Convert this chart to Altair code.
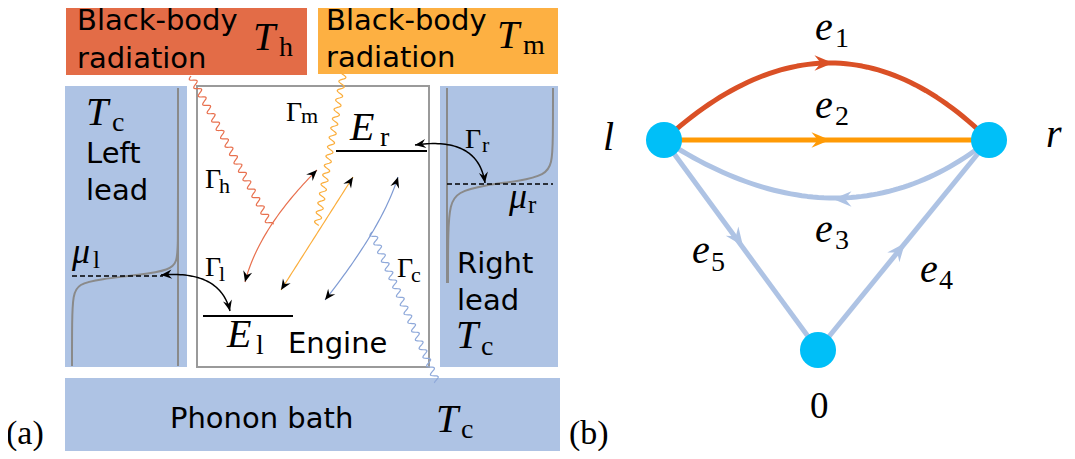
import math
import altair as alt
import pandas as pd

# ---------------- panel (a): boxes ----------------
box_x1 = [66, 318, 65, 440, 65]
box_x2 = [307, 558, 187, 558, 560]
box_y1 = [0, 0, 86, 86, 378]
box_y2 = [75, 74, 367, 367, 452]
box_fill = ["#E36C47", "#FDB042", "#AEC3E4", "#AEC3E4", "#AEC3E4"]

engine_box = [197, 86, 429, 367]

# Fermi-function control points (left lead, right lead)
fermi_l_x = [178, 178, 178, 178, 177, 170, 140, 100, 78, 73, 72, 72, 72]
fermi_l_y = [88, 88, 200, 245, 262, 270, 275, 279, 284, 295, 320, 366, 366]
fermi_r_x = [553, 553, 553, 552, 545, 520, 485, 457, 450, 448, 448, 448]
fermi_r_y = [88, 88, 140, 164, 175, 181, 185, 192, 205, 230, 283, 283]
axis_x = [178, 447]
axis_y1 = [88, 88]
axis_y2 = [366, 283]

# dashed chemical potentials
dash_x1 = [72, 447]
dash_x2 = [163, 553]
dash_y = [276, 184]

# energy levels
lvl_x1 = [336, 203]
lvl_x2 = [427, 293]
lvl_y = [151, 316]

# wavy photon / phonon lines: start, end, colour
wave_x0 = [191, 344, 372]
wave_y0 = [76, 70, 232]
wave_x1 = [271, 317, 437]
wave_y1 = [226, 226, 382]
wave_col = ["#E8704E", "#FBAE3C", "#8FA9DA"]

# thin double arrows (quadratic curves): start, control, end, colour
dbl_x0 = [245, 281, 325, 161, 415]
dbl_y0 = [282, 290, 300, 275, 145]
dbl_cx = [259, 317, 382, 220, 478]
dbl_cy = [228, 233.5, 228, 270, 136]
dbl_x1 = [317, 353, 398, 230, 485]
dbl_y1 = [170, 177, 177, 311, 183]
dbl_col = ["#E8704E", "#FBAE3C", "#7F9BD3", "black", "black"]
dbl_w = [1.2, 1.2, 1.2, 1.5, 1.5]

# ---------------- panel (b): graph ----------------
node_x = [664, 989, 818]
node_y = [140, 140, 350]
edge_from = [0, 0, 1, 2, 0]
edge_to = [1, 1, 0, 1, 2]
edge_cx = [833, None, 843, None, None]
edge_cy = [-14, None, 256, None, None]
edge_col = ["#DA5026", "#FF9A05", "#AEC3E4", "#AEC3E4", "#AEC3E4"]
tip_x = [833, 830, 833, 905, 743]
tip_y = [63, 140, 199, 243, 246]

# ---------------- texts ----------------
sans_t = ["Black-body", "radiation", "Black-body", "radiation", "Left", "lead",
          "Right", "lead", "Engine", "Phonon bath"]
sans_x = [77, 77, 326, 326, 86, 86, 457, 457, 288, 170]
sans_y = [30, 68, 30, 67, 163, 200, 273, 310, 353, 428]

ital_t = ["T", "T", "T", "T", "T", "E", "E", "μ", "μ",
          "e", "e", "e", "e", "e", "l", "r"]
ital_x = [253, 497, 86, 456, 436, 350, 227, 72, 509,
          815, 815, 815, 920, 692, 603, 1046]
ital_y = [50, 48, 125, 348, 432, 140, 347, 263, 208,
          40, 118, 242, 282, 263, 150, 147]
ital_s = [40, 40, 40, 40, 40, 40, 40, 36, 36,
          40, 40, 40, 40, 40, 40, 40]

rom_t = ["h", "m", "c", "c", "c", "r", "l", "l", "r",
         "1", "2", "3", "4", "5", "0", "(a)", "(b)"]
rom_x = [279, 523, 112, 481, 461, 380, 256, 93, 528,
         835, 835, 835, 939, 711, 810, 6, 569]
rom_y = [56, 54, 131, 355, 438, 146, 354, 268, 213,
         47, 125, 249, 289, 271, 418, 444, 444]
rom_s = [28, 28, 28, 28, 28, 28, 28, 25, 25,
         28, 28, 28, 28, 28, 37, 34, 34]

gam_x = [205, 286, 205, 397, 465]
gam_y = [188, 121, 276, 277, 148]
gam_sub = ["h", "m", "l", "c", "r"]
gam_sub_x = [219, 301, 219, 411, 482]
gam_sub_y = [193, 123, 281, 282, 152]

# =====================================================================
xs = alt.Scale(domain=[8, 1067], nice=False, zero=False)
ys = alt.Scale(domain=[8, 451], nice=False, zero=False, reverse=True)
X = alt.X("x:Q", scale=xs, axis=None)
Y = alt.Y("y:Q", scale=ys, axis=None)


def qbez(p0, c, p1, n=40):
    pts = []
    for i in range(n + 1):
        t = i / n
        a, b, d = (1 - t) ** 2, 2 * t * (1 - t), t * t
        pts.append((a * p0[0] + b * c[0] + d * p1[0], a * p0[1] + b * c[1] + d * p1[1]))
    return pts


def wavy(p0, p1, wl=9.5, amp=3.2, step=0.8):
    dx, dy = p1[0] - p0[0], p1[1] - p0[1]
    L = math.hypot(dx, dy)
    ux, uy = dx / L, dy / L
    nx, ny = -uy, ux
    n = int(L / step)
    pts = []
    for i in range(n + 1):
        s = i * step
        off = amp * math.sin(2 * math.pi * s / wl)
        pts.append((p0[0] + ux * s + nx * off, p0[1] + uy * s + ny * off))
    return pts


def ang(dx, dy):
    return math.degrees(math.atan2(dx, -dy)) % 360


ARROW = "M0,-1 L0.8,0.9 L0,0.25 L-0.8,0.9 Z"


def head_rows(tx, ty, dx, dy, size, col):
    L = math.hypot(dx, dy)
    unit = math.sqrt(size) / 2
    return {"x": tx - dx / L * unit, "y": ty - dy / L * unit,
            "a": ang(dx, dy), "s": size, "c": col}


layers = []

boxes = pd.DataFrame({"x": box_x1, "x2": box_x2, "y": box_y1, "y2": box_y2, "c": box_fill})
layers.append(alt.Chart(boxes).mark_rect().encode(
    x=X, x2="x2:Q", y=Y, y2="y2:Q", fill=alt.Fill("c:N", scale=None)))
eng = pd.DataFrame({"x": [engine_box[0]], "y": [engine_box[1]],
                    "x2": [engine_box[2]], "y2": [engine_box[3]]})
layers.append(alt.Chart(eng).mark_rect(fill="white", stroke="#9a9a9a", strokeWidth=2).encode(
    x=X, x2="x2:Q", y=Y, y2="y2:Q"))

rows = []
for k, (fx, fy) in enumerate([(fermi_l_x, fermi_l_y), (fermi_r_x, fermi_r_y)]):
    for i, (a, b) in enumerate(zip(fx, fy)):
        rows.append({"id": k, "i": i, "x": a, "y": b})
for k in range(2):
    rows.append({"id": 10 + k, "i": 0, "x": axis_x[k], "y": axis_y1[k]})
    rows.append({"id": 10 + k, "i": 1, "x": axis_x[k], "y": axis_y2[k]})
layers.append(alt.Chart(pd.DataFrame(rows)).mark_line(
    interpolate="basis", color="#8a8a8a", strokeWidth=2).encode(
    x=X, y=Y, detail="id:N", order="i:Q"))

rows = []
for k in range(2):
    rows.append({"id": k, "i": 0, "x": dash_x1[k], "y": dash_y[k]})
    rows.append({"id": k, "i": 1, "x": dash_x2[k], "y": dash_y[k]})
layers.append(alt.Chart(pd.DataFrame(rows)).mark_line(
    color="black", strokeWidth=1.5, strokeDash=[5, 3]).encode(
    x=X, y=Y, detail="id:N", order="i:Q"))

rows = []
lid = 0
for k in range(2):
    rows.append({"id": lid, "i": 0, "x": lvl_x1[k], "y": lvl_y[k], "c": "black", "w": 2.2})
    rows.append({"id": lid, "i": 1, "x": lvl_x2[k], "y": lvl_y[k], "c": "black", "w": 2.2})
    lid += 1
for k in range(3):
    for i, (a, b) in enumerate(wavy((wave_x0[k], wave_y0[k]), (wave_x1[k], wave_y1[k]))):
        rows.append({"id": lid, "i": i, "x": a, "y": b, "c": wave_col[k], "w": 1.2})
    lid += 1
heads = []
for k in range(5):
    p0, c, p1 = (dbl_x0[k], dbl_y0[k]), (dbl_cx[k], dbl_cy[k]), (dbl_x1[k], dbl_y1[k])
    for i, (a, b) in enumerate(qbez(p0, c, p1)):
        rows.append({"id": lid, "i": i, "x": a, "y": b, "c": dbl_col[k], "w": dbl_w[k]})
    lid += 1
    heads.append(head_rows(p0[0], p0[1], p0[0] - c[0], p0[1] - c[1], 130, "black"))
    heads.append(head_rows(p1[0], p1[1], p1[0] - c[0], p1[1] - c[1], 130, "black"))

for k in range(5):
    a, b = edge_from[k], edge_to[k]
    p0, p1 = (node_x[a], node_y[a]), (node_x[b], node_y[b])
    if edge_cx[k] is None:
        pts = [p0, p1]
    else:
        pts = qbez(p0, (edge_cx[k], edge_cy[k]), p1, 60)
    dx, dy = p1[0] - p0[0], p1[1] - p0[1]
    for i, (u, v) in enumerate(pts):
        rows.append({"id": lid, "i": i, "x": u, "y": v, "c": edge_col[k], "w": 5})
    lid += 1
    heads.append(head_rows(tip_x[k], tip_y[k], dx, dy, 380, edge_col[k]))

layers.append(alt.Chart(pd.DataFrame(rows)).mark_line(strokeCap="butt", strokeJoin="round").encode(
    x=X, y=Y, detail="id:N", order="i:Q",
    color=alt.Color("c:N", scale=None),
    strokeWidth=alt.StrokeWidth("w:Q", scale=None)))

layers.append(alt.Chart(pd.DataFrame(heads)).mark_point(
    shape=ARROW, filled=True, opacity=1, strokeWidth=0).encode(
    x=X, y=Y, angle=alt.Angle("a:Q", scale=None),
    size=alt.Size("s:Q", scale=None), color=alt.Color("c:N", scale=None)))

nodes = pd.DataFrame({"x": node_x, "y": node_y})
layers.append(alt.Chart(nodes).mark_point(
    shape="circle", filled=True, opacity=1, size=1300, color="#00BFF8", strokeWidth=0).encode(x=X, y=Y))


def text_layer(t, x, y, s, font, style="normal"):
    df = pd.DataFrame({"t": t, "x": x, "y": y, "s": s})
    return alt.Chart(df).mark_text(align="left", baseline="alphabetic", font=font,
                                   fontStyle=style, color="black").encode(
        x=X, y=Y, text="t:N", size=alt.Size("s:Q", scale=None))


layers.append(text_layer(sans_t, sans_x, sans_y, [29] * len(sans_t), "DejaVu Sans"))
layers.append(text_layer(ital_t, ital_x, ital_y, ital_s, "Liberation Serif", "italic"))
layers.append(text_layer(rom_t, rom_x, rom_y, rom_s, "Liberation Serif"))
layers.append(text_layer(["Γ"] * 5, gam_x, gam_y, [28] * 5, "Liberation Serif"))
layers.append(text_layer(gam_sub, gam_sub_x, gam_sub_y, [22] * 5, "Liberation Serif"))

chart = alt.layer(*layers).properties(
    width=1059, height=443, padding=0, autosize="none", background="white"
).configure_view(stroke=None)

chart.save("out.html", embed_options={"renderer": "svg", "actions": False})
